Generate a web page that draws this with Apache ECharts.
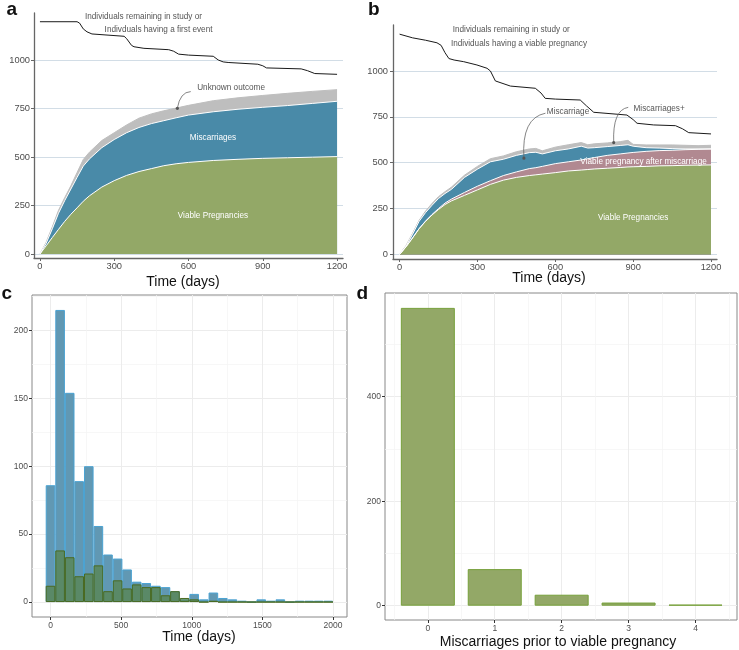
<!DOCTYPE html>
<html>
<head>
<meta charset="utf-8" />
<script src="https://cdn.jsdelivr.net/npm/echarts@6.0.0/dist/echarts.min.js"></script>
</head>
<body style="margin:0;background:#fff;">
<div id="main" style="width:739px;height:650px;"></div>
<script type="text/javascript">
// ---- panel a : cumulative first events ----
const timeA = [0, 25, 50, 75, 100, 125, 150, 175, 200, 250, 300, 350, 400, 450, 500, 550, 600, 700, 800, 900, 1000, 1100, 1200];
const viableA = [0, 42, 85, 127, 168, 205, 238, 272, 300, 345, 378, 405, 425, 440, 455, 465, 472, 482, 488, 493, 496, 499, 502];
const miscA = [0, 55, 130, 210, 275, 335, 395, 453, 490, 548, 590, 625, 652, 672, 687, 702, 716, 733, 746, 756, 765, 776, 787];
const unknownA = [0, 60, 140, 225, 290, 352, 420, 487, 525, 585, 625, 665, 700, 722, 738, 752, 766, 790, 805, 817, 828, 838, 847];
const remainTimeA = [0, 150, 160, 175, 190, 210, 340, 350, 370, 380, 420, 520, 540, 560, 600, 700, 720, 740, 760, 880, 900, 915, 1055, 1080, 1110, 1200];
const remainA = [1197, 1197, 1190, 1160, 1145, 1134, 1122, 1110, 1075, 1068, 1060, 1053, 1045, 1030, 1025, 1019, 1000, 990, 987, 978, 970, 959, 954, 945, 930, 926];

// ---- panel b : cumulative to viable pregnancy ----
const timeB = [0, 25, 50, 75, 100, 125, 150, 175, 200, 250, 300, 350, 400, 450, 500, 525, 550, 600, 650, 700, 725, 750, 800, 850, 880, 900, 950, 1000, 1050, 1100, 1150, 1200];
const viableB = [0, 42, 90, 140, 180, 215, 245, 272, 292, 322, 352, 382, 405, 420, 430, 434, 438, 446, 455, 460, 463, 466, 470, 474, 477, 478, 480, 483, 484, 486, 487, 488];
const afterMiscB = [0, 42, 90, 140, 182, 218, 250, 280, 302, 338, 372, 402, 430, 450, 468, 473, 480, 495, 505, 515, 522, 528, 540, 548, 553, 556, 562, 566, 568, 571, 573, 575];
const miscB = [0, 45, 110, 180, 228, 268, 305, 332, 355, 420, 465, 505, 519, 540, 555, 557, 548, 565, 575, 590, 580, 582, 588, 594, 598, 590, 582, 580, 577, 575, 575, 575];
const miscPlusB = [0, 48, 115, 185, 236, 278, 315, 342, 367, 432, 480, 522, 537, 560, 575, 578, 565, 585, 598, 610, 598, 603, 608, 615, 622, 600, 597, 597, 597, 595, 593, 595];
const remainTimeB = [0, 50, 100, 144, 160, 175, 190, 210, 247, 298, 337, 350, 369, 427, 523, 545, 561, 600, 696, 720, 748, 876, 900, 915, 979, 1063, 1090, 1114, 1200];
const remainB = [1201, 1181, 1168, 1154, 1140, 1100, 1068, 1060, 1051, 1033, 1015, 1000, 946, 918, 906, 880, 851, 847, 842, 810, 775, 760, 735, 715, 706, 702, 685, 664, 657];

// ---- panel c : histogram of event times ----
const binCentres = [0, 68, 136, 203, 271, 339, 407, 475, 542, 610, 678, 746, 814, 881, 949, 1017, 1085, 1153, 1220, 1288, 1356, 1424, 1492, 1559, 1627, 1695, 1763, 1831, 1898, 1966];
const histBlue = [86, 215, 154, 89, 100, 56, 35, 32, 24, 15, 14, 12, 11, 8, 2, 6, 2, 7, 3, 2, 1, 0, 2, 1, 2, 0, 1, 1, 1, 1];
const histGreen = [12, 38, 33, 19, 21, 27, 8, 16, 10, 13, 11, 11, 5, 8, 3, 2, 0, 1, 0, 0, 0, 0, 0, 0, 0, 0, 0, 0, 0, 0];

// ---- panel d : miscarriages before viable pregnancy ----
const priorMisc = [0, 1, 2, 3, 4];
const priorCount = [570, 70, 21, 6, 2];

const ticksAB_x = [0, 300, 600, 900, 1200];
const ticksAB_y = [0, 250, 500, 750, 1000];

const cGreen = '#93a867', cBlue = '#498aa8', cGrey = '#bebebe', cMauve = '#b18991';
const font = 'Liberation Sans';
const plain = v => String(v);

const zip = (xs, ys) => xs.map((x, i) => [x, ys[i]]);

function abX(grid, min, max, gap, pad) {
  return {
    type: 'value', gridIndex: grid, min: min, max: max,
    axisLine: { show: true, onZero: false, lineStyle: { color: '#666', width: 1.3 } },
    axisTick: { show: true, customValues: ticksAB_x, length: 3, lineStyle: { color: '#666' } },
    axisLabel: { customValues: ticksAB_x, formatter: plain, color: '#4d4d4d', fontSize: 9.3, margin: 4 },
    splitLine: { show: false },
    name: 'Time (days)', nameLocation: 'middle', nameGap: gap, nameMoveOverlap: false,
    nameTextStyle: { fontSize: 14, color: '#111', padding: pad }
  };
}
function abY(grid, min, max, margin) {
  return {
    type: 'value', gridIndex: grid, min: min, max: max,
    axisLine: { show: true, onZero: false, lineStyle: { color: '#666', width: 1.3 } },
    axisTick: { show: true, customValues: ticksAB_y, length: 3, lineStyle: { color: '#666' } },
    axisLabel: { customValues: ticksAB_y, formatter: plain, color: '#4d4d4d', fontSize: 9.3, margin: margin },
    splitLine: { show: true, lineStyle: { color: '#d2dde6', width: 1 } }
  };
}
function boxAxis(grid, min, max, ticks, name, gap, pad) {
  return {
    type: 'value', gridIndex: grid, min: min, max: max,
    axisLine: { show: false, onZero: false },
    axisTick: { show: true, customValues: ticks, length: 3, lineStyle: { color: '#333' } },
    axisLabel: { customValues: ticks, formatter: plain, color: '#4d4d4d', fontSize: 8.5, margin: 4 },
    splitLine: { show: true, lineStyle: { color: '#ececec', width: 1 } },
    name: name, nameLocation: 'middle', nameGap: gap, nameMoveOverlap: false,
    nameTextStyle: { fontSize: 14, color: '#111', padding: pad }
  };
}
function minorAxis(grid, min, max, ticks) {
  return {
    type: 'value', gridIndex: grid, min: min, max: max,
    axisLine: { show: false, onZero: false },
    axisTick: { show: false, customValues: ticks },
    axisLabel: { show: false },
    splitLine: { show: true, lineStyle: { color: '#f4f4f4', width: 0.7 } }
  };
}
function area(xi, xs, ys, fill, edge) {
  return {
    type: 'line', xAxisIndex: xi, yAxisIndex: xi, data: zip(xs, ys),
    symbol: 'none', silent: true,
    lineStyle: { color: edge, width: 1 },
    areaStyle: { color: fill, opacity: 1 }
  };
}
function blackLine(xi, xs, ys) {
  return {
    type: 'line', xAxisIndex: xi, yAxisIndex: xi, data: zip(xs, ys), z: 5,
    symbol: 'none', lineStyle: { color: '#1a1a1a', width: 1 }
  };
}

var myChart = echarts.init(document.getElementById('main'));

option = {
  animation: false,
  backgroundColor: '#fff',
  textStyle: { fontFamily: font },
  grid: [
    { left: 34, top: 13, width: 309, height: 245, outerBoundsMode: 'none' },
    { left: 393, top: 25, width: 324, height: 234, outerBoundsMode: 'none' },
    { left: 32, top: 295, width: 315, height: 322, show: true, borderColor: '#888', borderWidth: 1, outerBoundsMode: 'none' },
    { left: 385, top: 293, width: 352, height: 327, show: true, borderColor: '#888', borderWidth: 1, outerBoundsMode: 'none' }
  ],
  xAxis: [
    abX(0, -24, 1224, 17, [0, 11, 0, 0]),
    abX(1, -25.4, 1223, 12, [0, 12, 0, 0]),
    boxAxis(2, -131, 2099, [0, 500, 1000, 1500, 2000], 'Time (days)', 13, [0, 0, 0, 19]),
    boxAxis(3, -0.64, 4.62, [0, 1, 2, 3, 4], 'Miscarriages prior to viable pregnancy', 15, [0, 6, 0, 0]),
    minorAxis(2, -131, 2099, [250, 750, 1250, 1750]),
    minorAxis(3, -0.64, 4.62, [-0.5, 0.5, 1.5, 2.5, 3.5, 4.5])
  ],
  yAxis: [
    abY(0, -20.6, 1242, 4),
    abY(1, -25, 1251, 5),
    boxAxis(2, -11, 226, [0, 50, 100, 150, 200], '', 0, 0),
    boxAxis(3, -27.4, 598.5, [0, 200, 400], '', 0, 0),
    minorAxis(2, -11, 226, [25, 75, 125, 175, 225]),
    minorAxis(3, -27.4, 598.5, [100, 300, 500])
  ],
  series: [
    area(0, timeA, unknownA, cGrey, cGrey),
    area(0, timeA, miscA, cBlue, '#ffffff'),
    area(0, timeA, viableA, cGreen, '#ffffff'),
    blackLine(0, remainTimeA, remainA),

    area(1, timeB, miscPlusB, cGrey, cGrey),
    area(1, timeB, miscB, cBlue, '#ffffff'),
    area(1, timeB, afterMiscB, cMauve, '#ffffff'),
    area(1, timeB, viableB, cGreen, '#ffffff'),
    blackLine(1, remainTimeB, remainB),

    { type: 'bar', xAxisIndex: 2, yAxisIndex: 2, data: zip(binCentres, histBlue),
      barWidth: 9.6, barGap: '-100%',
      itemStyle: { color: '#6198b3', borderColor: '#4aa2d2', borderWidth: 1 } },
    { type: 'bar', xAxisIndex: 2, yAxisIndex: 2, data: zip(binCentres, histGreen),
      barWidth: 9.6, barGap: '-100%',
      itemStyle: { color: 'rgba(85,125,40,0.55)', borderColor: '#4a6a20', borderWidth: 1 } },

    { type: 'bar', xAxisIndex: 3, yAxisIndex: 3, data: zip(priorMisc, priorCount),
      barWidth: 54,
      itemStyle: { color: cGreen, borderColor: '#76a03a', borderWidth: 1 } }
  ]
};
myChart.setOption(option);

// annotations, placed in data coordinates
const notesA = [
  ['Individuals remaining in study or', 418, 1222, '#555'],
  ['Indivduals having a first event', 479, 1155, '#555'],
  ['Unknown outcome', 772, 856, '#555'],
  ['Miscarriages', 699, 598, '#fff'],
  ['Viable Pregnancies', 699, 196, '#fff']
];
const notesB = [
  ['Individuals remaining in study or', 430, 1223, '#555'],
  ['Individuals having a viable pregnancy', 460, 1147, '#555'],
  ['Miscarriage', 649, 777, '#555'],
  ['Miscarriages+', 1000, 797, '#555'],
  ['Viable pregnancy after miscarriage', 940, 505, '#fff'],
  ['Viable Pregnancies', 900, 198, '#fff']
];
const arrowsA = [[[609, 837], [566, 835], [555, 751]]];
const arrowsB = [[[562, 770], [469, 744], [479, 525]], [[881, 802], [820, 788], [825, 610]]];

function toPx(g, p) { return myChart.convertToPixel({ xAxisIndex: g, yAxisIndex: g }, p); }

const graphics = [];
[[0, notesA], [1, notesB]].forEach(([g, notes]) => {
  notes.forEach(n => {
    const p = toPx(g, [n[1], n[2]]);
    graphics.push({ type: 'text', x: p[0], y: p[1], z: 100,
      style: { text: n[0], fill: n[3], fontSize: 8.2, fontFamily: font, align: 'center', verticalAlign: 'middle' } });
  });
});
[[0, arrowsA], [1, arrowsB]].forEach(([g, arrows]) => {
  arrows.forEach(a => {
    const s = toPx(g, a[0]), c = toPx(g, a[1]), e = toPx(g, a[2]);
    graphics.push({ type: 'bezierCurve', z: 100,
      shape: { x1: s[0], y1: s[1], cpx1: c[0], cpy1: c[1], x2: e[0], y2: e[1] },
      style: { stroke: '#666', lineWidth: 0.8, fill: null } });
    graphics.push({ type: 'circle', z: 100, shape: { cx: e[0], cy: e[1], r: 1.6 }, style: { fill: '#555' } });
  });
});
[['a', 6.5, 10], ['b', 368, 10], ['c', 1.5, 293.5], ['d', 356.5, 293.5]].forEach(l => {
  graphics.push({ type: 'text', x: l[1], y: l[2], z: 100,
    style: { text: l[0], fill: '#111', font: 'bold 19px ' + font, verticalAlign: 'middle' } });
});
myChart.setOption({ graphic: graphics });
</script>
</body>
</html>
